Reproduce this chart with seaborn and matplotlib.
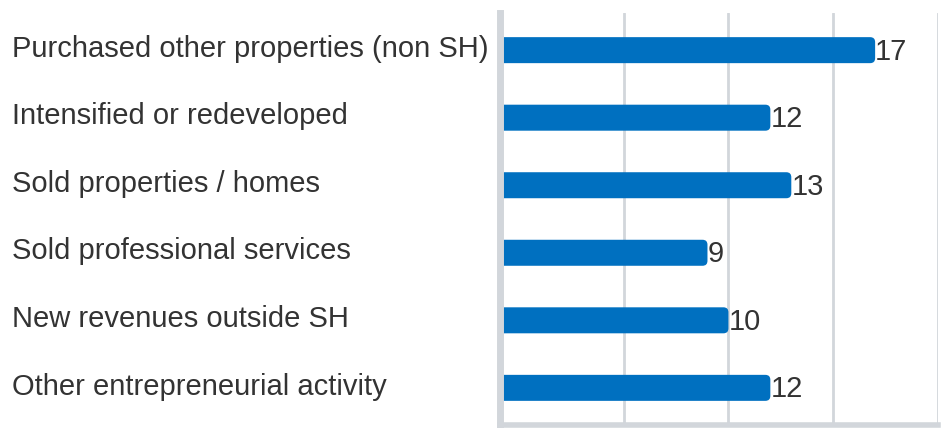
import matplotlib
matplotlib.use("Agg")
import matplotlib.pyplot as plt
import matplotlib.transforms as mtransforms
from matplotlib.patches import FancyBboxPatch
import seaborn as sns
import pandas as pd

categories = [
    "Purchased other properties (non SH)",
    "Intensified or redeveloped",
    "Sold properties / homes",
    "Sold professional services",
    "New revenues outside SH",
    "Other entrepreneurial activity",
]
counts = [17, 12, 13, 9, 10, 12]

df = pd.DataFrame({"activity": categories, "count": counts})

bar_color = "#0070C0"
grid_color = "#D2D6DB"
text_color = "#333333"

sns.set_style("white")
plt.rcParams["font.family"] = ["Liberation Sans", "DejaVu Sans"]

fig = plt.figure(figsize=(9.51, 4.28), dpi=100)
ax = fig.add_axes([500 / 951, 3 / 428, 438 / 951, 412 / 428])

sns.barplot(data=df, x="count", y="activity", orient="h", color=bar_color,
            width=0.385, saturation=1, ax=ax)

ax.set_xlim(-0.9, 20)
ax.set_ylim(len(categories) - 0.45, -0.55)

# swap square bars for ones with rounded ends, running from the left spine
x0 = ax.get_xlim()[0]
xu = (ax.get_xlim()[1] - x0) / 438
yu = (ax.get_ylim()[0] - ax.get_ylim()[1]) / 412
for p in list(ax.patches):
    y, h, w = p.get_y(), p.get_height(), p.get_width()
    p.remove()
    r = 5 * xu
    fb = FancyBboxPatch((x0 - r, y), w - x0 + r, h,
                        boxstyle=f"round,pad=0,rounding_size={r}",
                        mutation_aspect=yu / xu,
                        facecolor=bar_color, edgecolor="none", clip_on=True)
    ax.add_patch(fb)

for i, v in enumerate(counts):
    ax.annotate(str(v), (v, i), xytext=(0, -1), textcoords="offset points",
                ha="left", va="center", fontsize=21, color=text_color)

# category labels left aligned at the figure edge
trans = mtransforms.blended_transform_factory(fig.transFigure, ax.transData)
for i, c in enumerate(categories):
    ax.text(12 / 951, i - 0.02, c, transform=trans, ha="left", va="center",
            fontsize=21, color=text_color)

ax.set_yticks(range(len(categories)))
ax.set_yticklabels([])
ax.set_xticks([5, 10, 15, 20])
ax.set_xticklabels([])
ax.tick_params(length=0)
ax.grid(axis="x", color=grid_color, linewidth=2)
ax.set_axisbelow(True)
ax.set_xlabel("")
ax.set_ylabel("")

for s in ["top", "right"]:
    ax.spines[s].set_visible(False)
ax.spines["left"].set_color(grid_color)
ax.spines["left"].set_linewidth(5)
ax.spines["bottom"].set_color(grid_color)
ax.spines["bottom"].set_linewidth(4)

fig.savefig("out.png", dpi=100)
